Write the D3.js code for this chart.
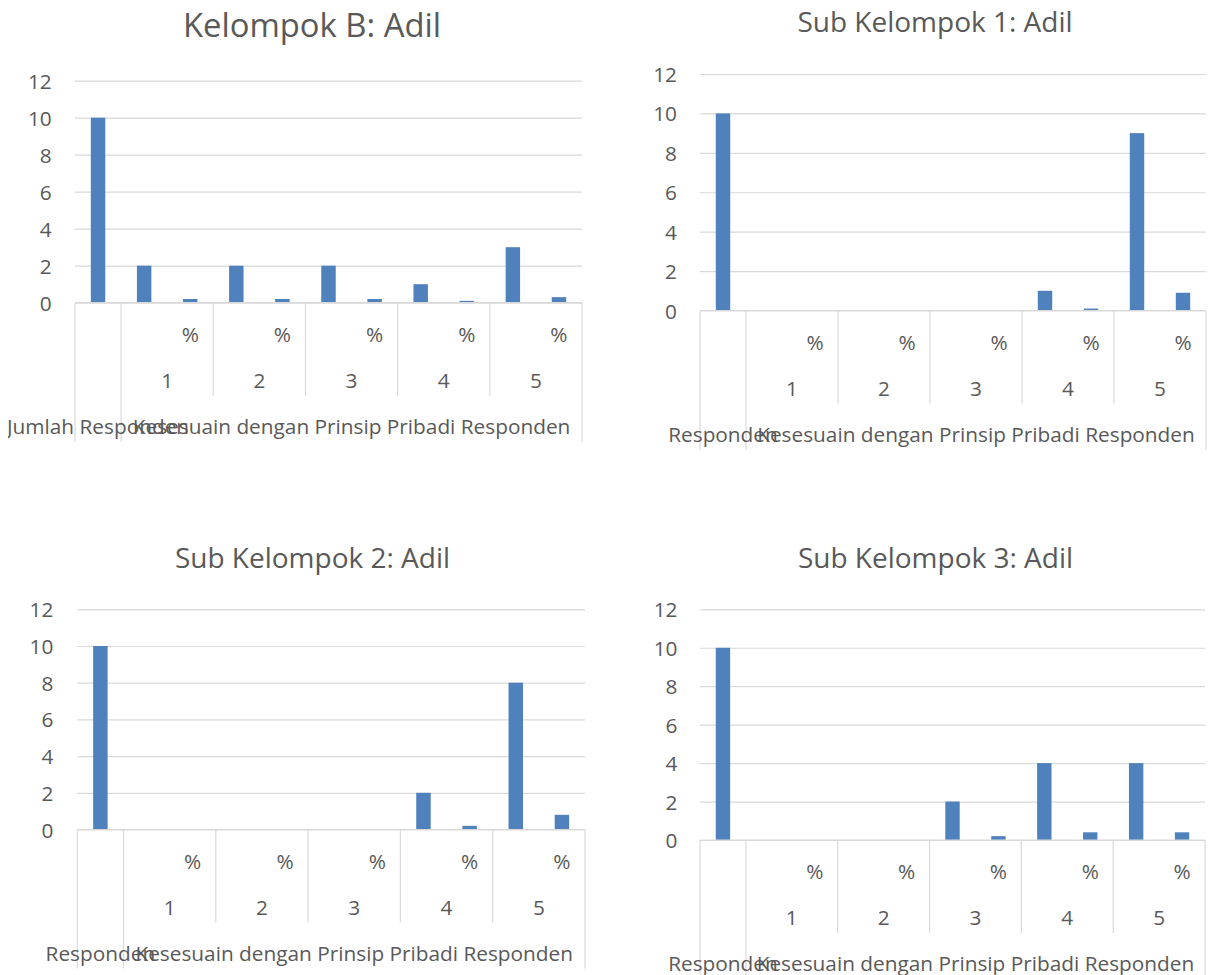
<!DOCTYPE html>
<html>
<head>
<meta charset="utf-8">
<script src="https://cdn.jsdelivr.net/npm/d3@7"></script>
<style>
  html, body { margin: 0; padding: 0; background: #ffffff; }
  svg { display: block; }
  text { font-family: "Open Sans", "Noto Sans", sans-serif; fill: #595959; }
</style>
</head>
<body>
<svg id="chart" width="1208" height="975"></svg>
<script>
// ---- data ----
const scoreLevels = ["1", "2", "3", "4", "5"];
const measureLabels = ["", "%"];          // count bar, share bar within each score
const totalLabelMain = "Jumlah Responden";
const totalLabelSub = "Responden";
const groupAxisTitle = "Kesesuain dengan Prinsip Pribadi Responden";
const yTickValues = [0, 2, 4, 6, 8, 10, 12];
const panelTitles = ["Kelompok B: Adil", "Sub Kelompok 1: Adil", "Sub Kelompok 2: Adil", "Sub Kelompok 3: Adil"];

// order: total, then (count, %) for scores 1..5
const valuesKelompokB = [10, 2, 0.2, 2, 0.2, 2, 0.2, 1, 0.1, 3, 0.3];
const valuesSub1      = [10, 0, 0,   0, 0,   0, 0,   1, 0.1, 9, 0.9];
const valuesSub2      = [10, 0, 0,   0, 0,   0, 0,   2, 0.2, 8, 0.8];
const valuesSub3      = [10, 0, 0,   0, 0,   2, 0.2, 4, 0.4, 4, 0.4];

// ---- category keys ----
const categoryKeys = ["total"];
scoreLevels.forEach(s => measureLabels.forEach((m, i) => categoryKeys.push(s + "|" + i)));

// ---- layout of the four panels ----
const panels = [
  { title: panelTitles[0], values: valuesKelompokB, totalLabel: totalLabelMain,
    left: 75, right: 582, top: 80.7, bottom: 302.7, labelRight: 51.7,
    titleX: 312, titleY: 37, titleSize: 32.8, clip: [8, 0, 593, 460] },
  { title: panelTitles[1], values: valuesSub1, totalLabel: totalLabelSub,
    left: 700, right: 1206, top: 74, bottom: 310.5, labelRight: 677,
    titleX: 935, titleY: 32.3, titleSize: 28, clip: [605, 0, 603, 460] },
  { title: panelTitles[2], values: valuesSub2, totalLabel: totalLabelSub,
    left: 77.3, right: 585, top: 609.3, bottom: 829.5, labelRight: 53.3,
    titleX: 312.5, titleY: 568.3, titleSize: 28, clip: [0, 520, 600, 455] },
  { title: panelTitles[3], values: valuesSub3, totalLabel: totalLabelSub,
    left: 700, right: 1205, top: 609.3, bottom: 840, labelRight: 677.5,
    titleX: 935.5, titleY: 568, titleSize: 28, clip: [605, 520, 603, 455] }
];

const svg = d3.select("#chart");
const barColor = "#4f81bd";
const lineColor = "#d9d9d9";
const labelSize = 20.8;

panels.forEach((p, idx) => {
  const clipId = "panel-clip-" + idx;
  svg.append("clipPath").attr("id", clipId)
    .append("rect")
    .attr("x", p.clip[0]).attr("y", p.clip[1])
    .attr("width", p.clip[2]).attr("height", p.clip[3]);

  const g = svg.append("g").attr("clip-path", `url(#${clipId})`);

  const x = d3.scaleBand().domain(categoryKeys).range([p.left, p.right]).padding(0);
  const y = d3.scaleLinear().domain([0, 12]).range([p.bottom, p.top]);
  const bw = x.bandwidth();
  const barW = bw / 3.19;   // gap width 219%

  // title
  g.append("text")
    .attr("x", p.titleX).attr("y", p.titleY)
    .attr("text-anchor", "middle")
    .style("font-size", p.titleSize + "px")
    .text(p.title);

  // value axis with gridlines
  const yAxis = d3.axisLeft(y)
    .tickValues(yTickValues)
    .tickSize(-(p.right - p.left))
    .tickPadding(p.left - p.labelRight);
  const ya = g.append("g").attr("transform", `translate(${p.left},0)`).call(yAxis);
  ya.select(".domain").remove();
  ya.selectAll(".tick line").attr("stroke", lineColor).attr("stroke-width", 1.2);
  ya.selectAll(".tick text")
    .attr("dy", null).attr("y", 7.5)
    .style("font-size", labelSize + "px")
    .attr("fill", "#595959");

  // bars
  const data = categoryKeys.map((k, i) => ({ key: k, value: p.values[i] })).filter(d => d.value > 0);
  g.append("g").selectAll("rect").data(data).join("rect")
    .attr("x", d => x(d.key) + (bw - barW) / 2)
    .attr("width", barW)
    .attr("y", d => y(d.value))
    .attr("height", d => y(0) - y(d.value))
    .attr("fill", barColor);

  // multi-level category axis
  const ax = g.append("g");
  const base = p.bottom;
  const lvl2Bottom = base + 93;
  const lvl3Bottom = base + 139;

  const fullLines = [p.left, x(scoreLevels[0] + "|0"), p.right];
  const groupLines = scoreLevels.slice(1).map(s => x(s + "|0"));
  ax.selectAll("line.full").data(fullLines).join("line")
    .attr("class", "full")
    .attr("x1", d => d).attr("x2", d => d)
    .attr("y1", base).attr("y2", lvl3Bottom)
    .attr("stroke", lineColor).attr("stroke-width", 1.2);
  ax.selectAll("line.group").data(groupLines).join("line")
    .attr("class", "group")
    .attr("x1", d => d).attr("x2", d => d)
    .attr("y1", base).attr("y2", lvl2Bottom)
    .attr("stroke", lineColor).attr("stroke-width", 1.2);
  ax.append("line")
    .attr("x1", p.left).attr("x2", p.right)
    .attr("y1", base).attr("y2", base)
    .attr("stroke", lineColor).attr("stroke-width", 1.2);

  // level 1: measure labels
  const lvl1 = [];
  scoreLevels.forEach(s => measureLabels.forEach((m, i) => { if (m) lvl1.push({ key: s + "|" + i, label: m }); }));
  ax.selectAll("text.l1").data(lvl1).join("text")
    .attr("class", "l1")
    .attr("x", d => x(d.key) + bw / 2)
    .attr("y", base + 39)
    .attr("text-anchor", "middle")
    .style("font-size", labelSize + "px")
    .text(d => d.label);

  // level 2: score labels
  ax.selectAll("text.l2").data(scoreLevels).join("text")
    .attr("class", "l2")
    .attr("x", s => x(s + "|0") + bw)
    .attr("y", base + 85)
    .attr("text-anchor", "middle")
    .style("font-size", labelSize + "px")
    .text(s => s);

  // level 3: total category and score group title
  ax.append("text")
    .attr("x", x("total") + bw / 2)
    .attr("y", base + 131)
    .attr("text-anchor", "middle")
    .style("font-size", labelSize + "px")
    .text(p.totalLabel);
  ax.append("text")
    .attr("x", (x(scoreLevels[0] + "|0") + p.right) / 2)
    .attr("y", base + 131)
    .attr("text-anchor", "middle")
    .style("font-size", labelSize + "px")
    .text(groupAxisTitle);
});
</script>
</body>
</html>
